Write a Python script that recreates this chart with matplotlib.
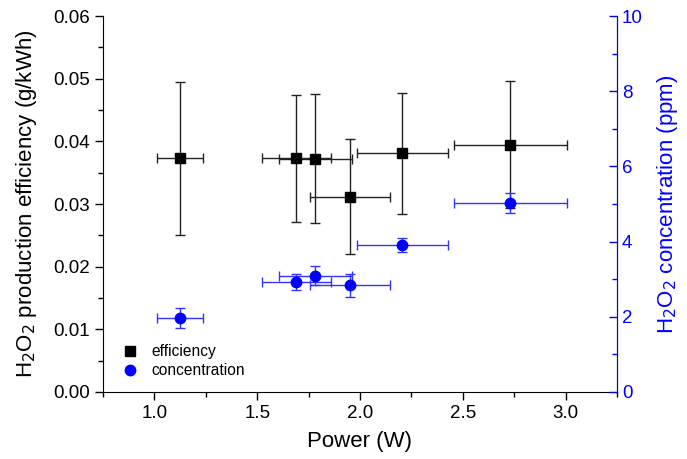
import numpy as np
import matplotlib
matplotlib.use("Agg")
import matplotlib.pyplot as plt
from matplotlib.ticker import MultipleLocator

plt.rcParams['font.family'] = ['Liberation Sans', 'DejaVu Sans']

# data
power = [1.123, 1.689, 1.782, 1.953, 2.206, 2.732]
power_err = [0.112, 0.168, 0.178, 0.195, 0.222, 0.275]
efficiency = [0.0373, 0.0373, 0.0372, 0.0312, 0.0381, 0.0395]
efficiency_err = [0.0122, 0.0101, 0.0103, 0.0092, 0.0097, 0.0102]
concentration = [1.96, 2.93, 3.09, 2.84, 3.91, 5.02]
concentration_err = [0.27, 0.21, 0.25, 0.30, 0.19, 0.27]

fig = plt.figure(figsize=(6.87, 4.59), dpi=100)
ax = fig.add_axes([0.150, 0.146, 0.748, 0.819])
ax2 = ax.twinx()

ax.errorbar(power, efficiency, xerr=power_err, yerr=efficiency_err, fmt='s',
            color='black', ecolor='#222222', elinewidth=1, capsize=3.5,
            markersize=7, zorder=3, label='efficiency')
ax2.errorbar(power, concentration, xerr=power_err, yerr=concentration_err, fmt='o',
             color='blue', ecolor='#3333ff', elinewidth=1, capsize=3.5,
             markersize=7.5, zorder=3, label='concentration')

ax.set_xlim(0.75, 3.25)
ax.set_ylim(0, 0.06)
ax2.set_ylim(0, 10)

ax.xaxis.set_major_locator(MultipleLocator(0.5))
ax.xaxis.set_minor_locator(MultipleLocator(0.25))
ax.yaxis.set_major_locator(MultipleLocator(0.01))
ax.yaxis.set_minor_locator(MultipleLocator(0.005))
ax2.yaxis.set_major_locator(MultipleLocator(2))
ax2.yaxis.set_minor_locator(MultipleLocator(1))
ax.yaxis.set_major_formatter(matplotlib.ticker.FormatStrFormatter('%.2f'))
ax.xaxis.set_major_formatter(matplotlib.ticker.FormatStrFormatter('%.1f'))

ax.tick_params(axis='both', which='major', direction='out', length=6, width=1, labelsize=13.5)
ax.tick_params(axis='both', which='minor', direction='out', length=3.5, width=1)
ax2.tick_params(axis='y', which='major', direction='in', length=6, width=1,
                labelsize=13.5, colors='blue')
ax2.tick_params(axis='y', which='minor', direction='in', length=3.5, width=1, colors='blue')

for a in (ax, ax2):
    a.spines['top'].set_visible(False)
ax2.spines['right'].set_color('blue')
ax2.spines['left'].set_visible(False)
ax2.spines['bottom'].set_visible(False)

ax.set_xlabel('Power (W)', fontsize=16, labelpad=6)
ax.set_ylabel('H$_2$O$_2$ production efficiency (g/kWh)', fontsize=16, labelpad=10)
ax2.set_ylabel('H$_2$O$_2$ concentration (ppm)', fontsize=16, color='blue', labelpad=9)

h1 = ax.plot([], [], 's', color='black', markersize=7)[0]
h2 = ax.plot([], [], 'o', color='blue', markersize=7.5)[0]
ax.legend([h1, h2], ['efficiency', 'concentration'], loc='lower left',
          bbox_to_anchor=(-0.005, 0.0), frameon=False, fontsize=11.2,
          handletextpad=0.4, labelspacing=0.25)

fig.savefig('out.png', dpi=100)
